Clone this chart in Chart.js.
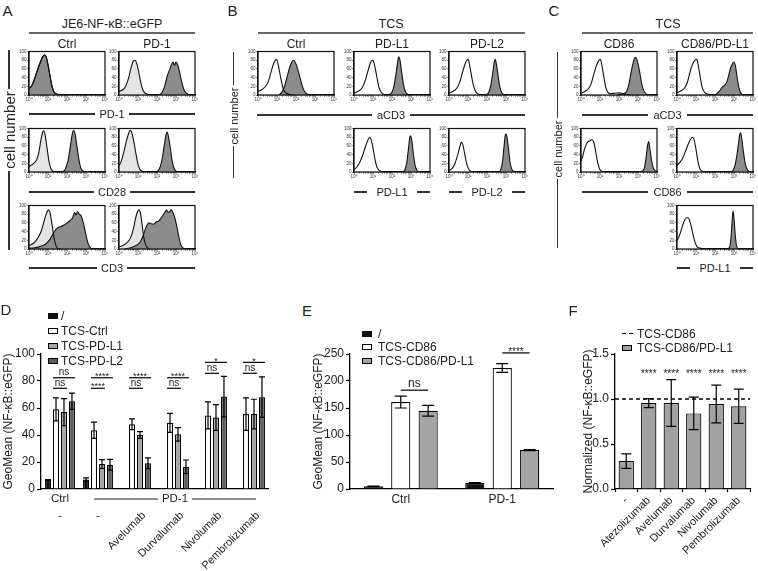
<!DOCTYPE html>
<html>
<head>
<meta charset="utf-8">
<script src="https://cdn.jsdelivr.net/npm/chart.js@4.4.0/dist/chart.umd.min.js"></script>
<style>
  body { margin: 0; background: #fff; }
  #fig { position: relative; width: 758px; height: 571px; overflow: hidden;
         font-family: "Liberation Sans", Arial, sans-serif; color: #222; }
  #fig canvas { position: absolute; }
  .t { position: absolute; transform: translate(-50%, -50%); white-space: nowrap; line-height: 1; }
  .tl { position: absolute; transform: translate(0, -50%); white-space: nowrap; line-height: 1; }
  .l { position: absolute; }
  .sw { position: absolute; box-sizing: border-box; }
</style>
</head>
<body>
<div id="fig"></div>
<script>
// ---------- histograms (x = decade, 0 -> 10^0 ... 4 -> 10^4; y = cell number, % of max) ----------
const histTickLabels = ['10⁰', '10¹', '10²', '10³', '10⁴'];

// A: JE6-NF-kB::eGFP, Ctrl vs PD-1 cells
const aPd1CtrlFill = [[0,15],[0.15,22],[0.3,38],[0.45,58],[0.6,76],[0.72,88],[0.82,92],[0.9,88],[1.0,70],[1.1,45],[1.2,22],[1.3,8],[1.42,3],[1.6,0]];
const aPd1CtrlOpen = aPd1CtrlFill;
const aPd1Pd1Open = [[0,8],[0.2,12],[0.35,20],[0.5,38],[0.62,60],[0.75,78],[0.85,80],[0.95,70],[1.05,50],[1.15,28],[1.25,12],[1.38,4],[1.55,1],[1.7,0]];
const aPd1Pd1Fill = [[2.1,0],[2.25,5],[2.4,20],[2.55,45],[2.68,60],[2.78,72],[2.85,76],[2.92,68],[3.0,76],[3.08,70],[3.18,55],[3.3,30],[3.42,12],[3.55,4],[3.7,1],[3.85,0]];
const aCd28CtrlOpen = [[0,13],[0.2,18],[0.4,28],[0.52,45],[0.62,72],[0.72,92],[0.78,95],[0.85,85],[0.95,55],[1.05,25],[1.15,8],[1.25,2],[1.4,0]];
const aCd28CtrlFill = [[1.75,0],[1.9,6],[2.05,25],[2.18,60],[2.28,88],[2.35,96],[2.42,88],[2.52,60],[2.62,30],[2.72,10],[2.82,3],[2.95,0]];
const aCd28Pd1Open = [[0,15],[0.12,25],[0.25,45],[0.38,70],[0.5,88],[0.58,96],[0.66,92],[0.78,70],[0.9,40],[1.0,18],[1.1,6],[1.25,1],[1.4,0]];
const aCd28Pd1Fill = [[1.95,0],[2.1,5],[2.25,25],[2.38,60],[2.47,85],[2.53,92],[2.6,82],[2.7,55],[2.8,25],[2.9,8],[3.0,2],[3.15,0]];
const aCd3CtrlOpen = [[0,8],[0.2,12],[0.35,18],[0.5,28],[0.65,42],[0.8,65],[0.92,82],[1.02,90],[1.1,85],[1.2,60],[1.3,30],[1.4,10],[1.5,2],[1.65,0]];
const aCd3CtrlFill = [[0,2],[0.3,3],[0.6,6],[0.9,12],[1.1,22],[1.25,34],[1.4,44],[1.55,50],[1.7,52],[1.85,55],[2.0,60],[2.15,65],[2.3,72],[2.4,84],[2.48,78],[2.55,86],[2.65,80],[2.75,76],[2.85,62],[2.95,42],[3.05,22],[3.15,8],[3.25,2],[3.4,0]];
const aCd3Pd1Open = [[0,5],[0.2,8],[0.4,14],[0.6,25],[0.75,45],[0.88,72],[0.98,87],[1.06,90],[1.14,80],[1.22,55],[1.3,28],[1.4,10],[1.5,3],[1.65,0]];
const aCd3Pd1Fill = [[0.3,0],[0.6,3],[0.9,8],[1.1,15],[1.25,28],[1.38,45],[1.48,55],[1.58,60],[1.7,58],[1.82,57],[1.95,62],[2.08,64],[2.2,70],[2.32,78],[2.42,85],[2.5,90],[2.58,84],[2.66,86],[2.75,90],[2.85,82],[2.95,70],[3.05,50],[3.15,28],[3.25,10],[3.38,2],[3.5,0]];

// B: TCS Ctrl / PD-L1 / PD-L2
const bCd3CtrlOpen = [[0,8],[0.2,12],[0.4,20],[0.55,32],[0.7,55],[0.82,72],[0.92,80],[0.98,82],[1.05,72],[1.15,50],[1.25,28],[1.35,12],[1.5,4],[1.7,1],[1.9,0]];
const bCd3CtrlFill = [[1.1,0],[1.25,6],[1.4,20],[1.55,45],[1.68,65],[1.78,76],[1.86,80],[1.95,76],[2.05,65],[2.18,45],[2.32,22],[2.45,8],[2.6,2],[2.8,0]];
const bCd3Pdl1Open = [[0,4],[0.2,8],[0.4,15],[0.55,28],[0.7,50],[0.85,72],[0.95,80],[1.02,78],[1.1,65],[1.2,42],[1.3,20],[1.42,7],[1.55,2],[1.7,0]];
const bCd3Pdl1Fill = [[1.85,0],[1.98,5],[2.1,20],[2.2,45],[2.28,70],[2.35,88],[2.42,80],[2.5,55],[2.6,25],[2.7,8],[2.82,2],[2.95,0]];
const bCd3Pdl2Open = [[0,4],[0.2,8],[0.4,15],[0.55,28],[0.7,50],[0.85,72],[0.95,80],[1.0,82],[1.08,70],[1.18,45],[1.3,20],[1.42,7],[1.55,2],[1.7,0]];
const bCd3Pdl2Fill = [[1.95,0],[2.08,5],[2.2,22],[2.3,50],[2.38,75],[2.43,82],[2.5,70],[2.58,45],[2.68,18],[2.78,5],[2.9,0]];
const bPdl1Open = [[0,5],[0.15,12],[0.3,22],[0.45,38],[0.6,58],[0.72,72],[0.82,80],[0.9,75],[1.0,55],[1.1,30],[1.2,12],[1.32,4],[1.45,1],[1.6,0]];
const bPdl1Fill = [[2.55,0],[2.68,5],[2.78,22],[2.87,55],[2.94,80],[2.98,83],[3.05,70],[3.13,40],[3.22,14],[3.32,3],[3.45,0]];
const bPdl2Open = [[0,3],[0.15,8],[0.3,18],[0.45,38],[0.57,58],[0.65,68],[0.72,64],[0.8,48],[0.9,25],[1.0,10],[1.1,3],[1.25,0]];
const bPdl2Fill = [[2.6,0],[2.72,5],[2.82,25],[2.9,60],[2.96,84],[3.0,87],[3.06,78],[3.14,50],[3.22,20],[3.32,5],[3.45,0]];

// C: TCS CD86 / CD86+PD-L1
const cCd3Cd86Open = [[0,4],[0.2,8],[0.4,15],[0.55,28],[0.72,55],[0.85,72],[0.95,80],[1.02,82],[1.1,68],[1.2,42],[1.3,18],[1.42,6],[1.55,3],[1.8,4],[2.0,5],[2.2,3],[2.4,1],[2.6,0]];
const cCd3Cd86Fill = [[1.9,0],[2.2,3],[2.4,8],[2.52,25],[2.65,55],[2.75,75],[2.85,86],[2.92,84],[3.0,72],[3.1,50],[3.2,25],[3.3,10],[3.42,3],[3.55,0]];
const cCd3DblOpen = [[0,5],[0.2,9],[0.4,16],[0.55,30],[0.72,58],[0.85,74],[0.95,80],[1.04,82],[1.12,68],[1.22,42],[1.32,18],[1.45,6],[1.6,2],[1.8,1],[2.0,0]];
const cCd3DblFill = [[1.95,0],[2.1,3],[2.25,10],[2.38,18],[2.5,22],[2.62,30],[2.72,45],[2.82,62],[2.92,72],[3.0,76],[3.07,68],[3.15,45],[3.25,18],[3.35,5],[3.48,0]];
const cCd86Cd86Open = [[0,25],[0.08,35],[0.18,52],[0.28,64],[0.38,70],[0.48,72],[0.58,74],[0.66,70],[0.74,55],[0.82,35],[0.9,18],[0.98,7],[1.08,2],[1.2,0]];
const cCd86Cd86Fill = [[3.0,0],[3.2,2],[3.33,8],[3.43,35],[3.5,60],[3.56,70],[3.62,55],[3.7,30],[3.8,10],[3.9,3],[4,1]];
const cCd86DblOpen = [[0,15],[0.15,22],[0.3,32],[0.45,48],[0.6,65],[0.72,76],[0.82,80],[0.9,74],[1.0,52],[1.1,25],[1.2,8],[1.32,2],[1.5,0],[1.9,1],[2.3,0]];
const cCd86DblFill = [[2.7,0],[2.9,2],[3.02,10],[3.12,30],[3.22,60],[3.3,86],[3.35,90],[3.42,72],[3.5,45],[3.6,18],[3.7,5],[3.82,1],[3.95,0]];
const cPdl1DblOpen = [[0,20],[0.1,28],[0.2,40],[0.3,55],[0.4,66],[0.5,72],[0.58,72],[0.66,66],[0.76,50],[0.86,30],[0.96,14],[1.06,5],[1.2,2],[1.4,1],[1.6,0]];
const cPdl1DblFill = [[2.65,0],[2.77,4],[2.85,30],[2.91,70],[2.95,87],[3.0,70],[3.06,35],[3.13,8],[3.22,1],[3.3,0]];

// ---------- D ----------
const catsD = ['-', '-', 'Avelumab', 'Durvalumab', 'Nivolumab', 'Pembrolizumab'];
const groupNamesD = ['Ctrl', 'PD-1'];
const seriesNamesD = ['/', 'TCS-Ctrl', 'TCS-PD-L1', 'TCS-PD-L2'];
const noneD = [6.5, 7, null, null, null, null];
const noneErrD = [0.5, 1.2, null, null, null, null];
const ctrlD = [59, 43.5, 48, 49, 54.5, 55.5];
const ctrlErrD = [8.5, 6, 4, 7, 10, 12];
const pdl1D = [57, 18.5, 40, 40.5, 53, 55.5];
const pdl1ErrD = [10, 3.3, 2.5, 5, 9.5, 11];
const pdl2D = [65, 18, 19, 16.5, 68.5, 68];
const pdl2ErrD = [6, 4, 4, 5, 15, 15];
// [category, from series, to series, bracket level, label]
const sigD = [
  [0, 1, 3, 82.4, 'ns'], [0, 1, 2, 74.6, 'ns'],
  [1, 1, 3, 82.4, '****'], [1, 1, 2, 74.6, '****'],
  [2, 1, 3, 82.4, '****'], [2, 1, 2, 74.6, 'ns'],
  [3, 1, 3, 82.4, '****'], [3, 1, 2, 74.6, 'ns'],
  [4, 1, 3, 93.8, '*'], [4, 1, 2, 85.7, 'ns'],
  [5, 1, 3, 93.8, '*'], [5, 1, 2, 85.7, 'ns']
];

// ---------- E ----------
const catsE = ['Ctrl', 'PD-1'];
const seriesNamesE = ['/', 'TCS-CD86', 'TCS-CD86/PD-L1'];
const noneE = [5, 11];
const noneErrE = [0.5, 1];
const cd86E = [161, 224];
const cd86ErrE = [11, 8];
const dblE = [145, 72];
const dblErrE = [10, 0.8];
const sigE = [[0, 1, 2, 183, 'ns'], [1, 1, 2, 252, '****']];

// ---------- F ----------
const catsF = ['-', 'Atezolizumab', 'Avelumab', 'Durvalumab', 'Nivolumab', 'Pembrolizumab'];
const seriesNamesF = ['TCS-CD86', 'TCS-CD86/PD-L1'];
const refF = 1.0;
const dblF = [0.31, 0.955, 0.955, 0.84, 0.945, 0.92];
const dblErrF = [0.08, 0.05, 0.26, 0.18, 0.21, 0.19];
const sigF = [[1, 0, 0, 1.31, '****'], [2, 0, 0, 1.31, '****'], [3, 0, 0, 1.31, '****'], [4, 0, 0, 1.31, '****'], [5, 0, 0, 1.31, '****']];

const FONT = '"Liberation Sans", Arial, sans-serif';
Chart.defaults.font.family = FONT;
Chart.defaults.color = '#222';

const fig = document.getElementById('fig');

// ---------- html helpers ----------
function addText(s, x, y, size, cls, rot) {
  const d = document.createElement('div');
  d.className = cls || 't';
  d.textContent = s;
  d.style.left = x + 'px';
  d.style.top = y + 'px';
  d.style.fontSize = size + 'px';
  if (rot) d.style.transform = 'translate(-50%,-50%) rotate(-90deg)';
  fig.appendChild(d);
  return d;
}
function hline(x1, x2, y, w, color) {
  const d = document.createElement('div');
  d.className = 'l';
  d.style.cssText += `left:${x1}px;top:${y - w / 2}px;width:${x2 - x1}px;height:${w}px;background:${color};`;
  fig.appendChild(d);
}
function vline(x, y1, y2, w, color) {
  const d = document.createElement('div');
  d.className = 'l';
  d.style.cssText += `left:${x - w / 2}px;top:${y1}px;width:${w}px;height:${y2 - y1}px;background:${color};`;
  fig.appendChild(d);
}
function labelLine(s, x1, x2, y, size, gap) {
  const mid = (x1 + x2) / 2;
  const t = addText(s, mid, y, size);
  const w = t.getBoundingClientRect().width;
  hline(x1, mid - w / 2 - gap, y, 1.2, '#333');
  hline(mid + w / 2 + gap, x2, y, 1.2, '#333');
}
// vertical label sitting on a vertical rule (text centred at cy)
function vLabelLine(s, x, y1, y2, cy, size, gap) {
  const t = addText(s, x, cy, size, 't', true);
  const h = t.getBoundingClientRect().height;
  vline(x, y1, cy - h / 2 - gap, 1.2, '#333');
  vline(x, cy + h / 2 + gap, y2, 1.2, '#333');
}
function swatch(x, y, w, h, bg, border) {
  const d = document.createElement('div');
  d.className = 'sw';
  d.style.cssText += `left:${x}px;top:${y - h / 2}px;width:${w}px;height:${h}px;background:${bg};` +
    (border ? 'border:1px solid #000;' : '');
  fig.appendChild(d);
}

// ---------- chart plugins ----------
const frame = {
  id: 'frame',
  afterDraw(chart) {
    const a = chart.chartArea, ctx = chart.ctx;
    ctx.save();
    ctx.strokeStyle = '#111';
    ctx.lineWidth = 1.2;
    ctx.strokeRect(a.left, a.top, a.right - a.left, a.bottom - a.top);
    ctx.restore();
  }
};

const errorBars = {
  id: 'errorBars',
  afterDatasetsDraw(chart, args, opts) {
    const ctx = chart.ctx, y = chart.scales.y;
    chart.data.datasets.forEach((ds, i) => {
      if (!ds.errors) return;
      chart.getDatasetMeta(i).data.forEach((bar, j) => {
        const v = ds.data[j], e = ds.errors[j];
        if (v == null || e == null) return;
        const top = y.getPixelForValue(v + e), bot = y.getPixelForValue(v - e), h = opts.cap / 2;
        ctx.save();
        ctx.strokeStyle = '#000';
        ctx.lineWidth = 1.2;
        ctx.beginPath();
        ctx.moveTo(bar.x, top); ctx.lineTo(bar.x, bot);
        ctx.moveTo(bar.x - h, top); ctx.lineTo(bar.x + h, top);
        ctx.moveTo(bar.x - h, bot); ctx.lineTo(bar.x + h, bot);
        ctx.stroke();
        ctx.restore();
      });
    });
  }
};

const sigMarks = {
  id: 'sigMarks',
  afterDatasetsDraw(chart, args, opts) {
    const ctx = chart.ctx, y = chart.scales.y;
    (opts.marks || []).forEach(([cat, a, b, level, label]) => {
      const A = chart.getDatasetMeta(a).data[cat], B = chart.getDatasetMeta(b).data[cat];
      const py = y.getPixelForValue(level);
      const star = label.indexOf('*') >= 0;
      const size = star ? opts.starSize : opts.nsSize;
      ctx.save();
      ctx.strokeStyle = '#000';
      ctx.fillStyle = '#222';
      ctx.lineWidth = 1.2;
      let cx = A.x, cy = py;
      if (a !== b) {
        const x1 = opts.edges ? A.x - A.width / 2 : A.x;
        const x2 = opts.edges ? B.x + B.width / 2 : B.x;
        ctx.beginPath(); ctx.moveTo(x1, py); ctx.lineTo(x2, py); ctx.stroke();
        cx = (x1 + x2) / 2;
        cy = py - (star ? opts.starGap : opts.nsGap);
      }
      ctx.font = size + 'px ' + FONT;
      ctx.textAlign = 'center';
      ctx.textBaseline = 'alphabetic';
      ctx.fillText(label, cx, cy + size * (star ? 0.57 : 0.26));
      ctx.restore();
    });
  }
};

const refLine = {
  id: 'refLine',
  afterDatasetsDraw(chart, args, opts) {
    const ctx = chart.ctx, a = chart.chartArea, py = chart.scales.y.getPixelForValue(opts.value);
    ctx.save();
    ctx.strokeStyle = '#000';
    ctx.lineWidth = 1.3;
    ctx.setLineDash([4, 3]);
    ctx.beginPath(); ctx.moveTo(a.left, py); ctx.lineTo(a.right, py); ctx.stroke();
    ctx.restore();
  }
};

const groupLabelsD = {
  id: 'groupLabelsD',
  afterDraw(chart) {
    const ctx = chart.ctx, x = chart.scales.x, y0 = chart.chartArea.bottom;
    ctx.save();
    ctx.fillStyle = '#222';
    ctx.strokeStyle = '#222';
    ctx.lineWidth = 1.2;
    ctx.font = '11.5px ' + FONT;
    ctx.textAlign = 'center';
    ctx.textBaseline = 'middle';
    const yy = y0 + 10;
    ctx.fillText(groupNamesD[0], x.getPixelForValue(0), yy);
    const a = x.getPixelForValue(1) - 4, b = x.getPixelForValue(catsD.length - 1) + 6, mid = (a + b) / 2;
    const w = ctx.measureText(groupNamesD[1]).width;
    ctx.fillText(groupNamesD[1], mid, yy);
    ctx.beginPath();
    ctx.moveTo(a, yy); ctx.lineTo(mid - w / 2 - 4, yy);
    ctx.moveTo(mid + w / 2 + 4, yy); ctx.lineTo(b, yy);
    ctx.stroke();
    catsD.forEach((c, i) => { if (c === '-') ctx.fillText(c, x.getPixelForValue(i), y0 + 27); });
    ctx.restore();
  }
};

// ---------- histogram panels ----------
const BOX_W = 76, BOX_H = 44;
function histogram(x, y, open, filled, openColor) {
  const padL = 12, padT = 3, padR = 5, padB = 9;
  const cv = document.createElement('canvas');
  cv.width = BOX_W + padL + padR;
  cv.height = BOX_H + padT + padB;
  cv.style.left = (x - padL) + 'px';
  cv.style.top = (y - padT) + 'px';
  fig.appendChild(cv);
  new Chart(cv, {
    type: 'line',
    data: {
      datasets: [
        { data: filled, backgroundColor: '#8c8c8c', fill: 'origin' },
        { data: open, backgroundColor: openColor, fill: 'origin' }
      ]
    },
    options: {
      responsive: false, animation: false, devicePixelRatio: 1,
      layout: { padding: { top: padT, right: padR, left: 0, bottom: 0 } },
      elements: {
        line: { borderColor: '#111', borderWidth: 1.1, cubicInterpolationMode: 'monotone' },
        point: { radius: 0 }
      },
      plugins: { legend: { display: false }, tooltip: { enabled: false }, filler: { drawTime: 'beforeDatasetsDraw' } },
      scales: {
        x: {
          type: 'linear', min: 0, max: 4,
          afterFit: s => { s.height = padB; },
          afterBuildTicks: s => {
            const t = [];
            for (let d = 0; d < 4; d++) for (let m = 1; m < 10; m++) t.push({ value: d + Math.log10(m) });
            t.push({ value: 4 });
            s.ticks = t;
          },
          ticks: {
            autoSkip: false, maxRotation: 0, minRotation: 0, padding: 0.5,
            font: { size: 4.5 }, color: '#333',
            callback: v => Number.isInteger(v) ? histTickLabels[v] : ''
          },
          grid: { drawOnChartArea: false, tickLength: 1.6, tickWidth: 0.6, color: '#111' },
          border: { color: '#111', width: 1.2 }
        },
        y: {
          min: 0, max: 100,
          afterFit: s => { s.width = padL; },
          ticks: { stepSize: 20, padding: 0.8, font: { size: 4.5 }, color: '#333' },
          grid: { drawOnChartArea: false, tickLength: 1.8, tickWidth: 0.6, color: '#111' },
          border: { color: '#111', width: 1.2 }
        }
      }
    },
    plugins: [frame]
  });
}

const LIGHT = '#e4e4e4', WHITE = '#ffffff';
// A
histogram(29, 51, aPd1CtrlOpen, aPd1CtrlFill, LIGHT);
histogram(119, 51, aPd1Pd1Open, aPd1Pd1Fill, LIGHT);
histogram(29, 128, aCd28CtrlOpen, aCd28CtrlFill, LIGHT);
histogram(119, 128, aCd28Pd1Open, aCd28Pd1Fill, LIGHT);
histogram(29, 205, aCd3CtrlOpen, aCd3CtrlFill, LIGHT);
histogram(119, 205, aCd3Pd1Open, aCd3Pd1Fill, LIGHT);
// B
histogram(258, 51, bCd3CtrlOpen, bCd3CtrlFill, WHITE);
histogram(354, 51, bCd3Pdl1Open, bCd3Pdl1Fill, WHITE);
histogram(449, 51, bCd3Pdl2Open, bCd3Pdl2Fill, WHITE);
histogram(354, 128, bPdl1Open, bPdl1Fill, WHITE);
histogram(449, 128, bPdl2Open, bPdl2Fill, WHITE);
// C
histogram(581, 51, cCd3Cd86Open, cCd3Cd86Fill, WHITE);
histogram(677, 51, cCd3DblOpen, cCd3DblFill, WHITE);
histogram(581, 128, cCd86Cd86Open, cCd86Cd86Fill, WHITE);
histogram(677, 128, cCd86DblOpen, cCd86DblFill, WHITE);
histogram(677, 205, cPdl1DblOpen, cPdl1DblFill, WHITE);

// headers and axis labels of A-C
addText('A', 7.5, 10, 15);
addText('B', 232.5, 10, 15);
addText('C', 554, 10, 15);

addText('JE6-NF-κB::eGFP', 112, 24, 12.5);
hline(29, 195, 33, 2, '#666');
addText('Ctrl', 67, 44, 12);
addText('PD-1', 157, 44, 12);
labelLine('PD-1', 29, 195, 114, 11, 4);
labelLine('CD28', 29, 195, 192, 11, 4);
labelLine('CD3', 29, 195, 268, 11, 4);
vLabelLine('cell number', 9, 50, 250, 130, 15, 2);

addText('TCS', 391, 24, 12.5);
hline(258, 525, 33, 2, '#666');
addText('Ctrl', 296, 44, 12);
addText('PD-L1', 392, 44, 12);
addText('PD-L2', 487, 44, 12);
labelLine('aCD3', 257, 525, 115, 11, 5);
labelLine('PD-L1', 354, 430, 192, 11, 9);
labelLine('PD-L2', 449, 525, 192, 11, 9);
vLabelLine('cell number', 233.5, 52, 178, 115.5, 11, 2);

addText('TCS', 668, 24, 12.5);
hline(582, 753, 33, 2, '#666');
addText('CD86', 619, 44, 12);
addText('CD86/PD-L1', 715, 44, 12);
labelLine('aCD3', 582, 753, 115, 11, 5);
labelLine('CD86', 582, 753, 192, 11, 5);
labelLine('PD-L1', 677, 753, 268, 11, 9);
vLabelLine('cell number', 557.5, 52, 248, 148.5, 11, 2);

// ---------- bar panels ----------
function barCanvas(left, top, w, h) {
  const cv = document.createElement('canvas');
  cv.width = w; cv.height = h;
  cv.style.left = left + 'px'; cv.style.top = top + 'px';
  fig.appendChild(cv);
  return cv;
}
function barOptions(o) {
  const yTicks = { stepSize: o.yStep, padding: 2, color: '#222', font: { size: 12 } };
  if (o.yFmt) yTicks.callback = o.yFmt;
  return {
    responsive: false, animation: false, devicePixelRatio: 1,
    layout: { padding: { top: o.padTop, right: o.padRight, left: 0, bottom: 0 } },
    plugins: {
      legend: { display: false }, tooltip: { enabled: false },
      errorBars: { cap: o.cap },
      sigMarks: o.sig,
      refLine: o.ref || {}
    },
    scales: {
      x: {
        afterFit: s => { s.height = o.xHeight; },
        grid: { drawOnChartArea: false, drawTicks: o.xTicks, tickLength: 3, tickWidth: 1.2, color: '#000' },
        border: { color: '#000', width: 1.3 },
        ticks: Object.assign({ autoSkip: false, color: '#222', font: { size: o.xFont } }, o.xTickOpts)
      },
      y: {
        min: 0, max: o.yMax,
        afterFit: s => { s.width = o.yWidth; },
        grid: { drawOnChartArea: false, tickLength: 4, tickWidth: 1.2, color: '#000' },
        border: { color: '#000', width: 1.3 },
        ticks: yTicks,
        title: { display: true, text: o.yTitle, color: '#222', font: { size: 12 }, padding: { top: 1, bottom: 0 } }
      }
    }
  };
}
const barStyle = { borderColor: '#000', borderWidth: 1.2 };

// D
new Chart(barCanvas(0, 340, 280, 231), {
  type: 'bar',
  data: {
    labels: catsD,
    datasets: [
      Object.assign({ label: seriesNamesD[0], data: noneD, errors: noneErrD, backgroundColor: '#111' }, barStyle),
      Object.assign({ label: seriesNamesD[1], data: ctrlD, errors: ctrlErrD, backgroundColor: '#fff' }, barStyle),
      Object.assign({ label: seriesNamesD[2], data: pdl1D, errors: pdl1ErrD, backgroundColor: '#a6a6a6' }, barStyle),
      Object.assign({ label: seriesNamesD[3], data: pdl2D, errors: pdl2ErrD, backgroundColor: '#5e5e5e' }, barStyle)
    ].map(d => Object.assign(d, { barPercentage: 0.75, categoryPercentage: 0.84 }))
  },
  options: barOptions({
    padTop: 14, padRight: 8, xHeight: 82, yWidth: 41, yMax: 100, yStep: 20, cap: 6,
    yTitle: 'GeoMean (NF-κB::eGFP)', xFont: 11, xTicks: false,
    xTickOpts: { maxRotation: 45, minRotation: 45, padding: 20, labelOffset: 8,
                 callback: (v, i) => catsD[i] === '-' ? '' : catsD[i] },
    sig: { marks: sigD, edges: true, nsSize: 10, starSize: 9, nsGap: 5, starGap: 4 }
  }),
  plugins: [errorBars, sigMarks, groupLabelsD]
});

// E
new Chart(barCanvas(310, 340, 250, 231), {
  type: 'bar',
  data: {
    labels: catsE,
    datasets: [
      Object.assign({ label: seriesNamesE[0], data: noneE, errors: noneErrE, backgroundColor: '#111' }, barStyle),
      Object.assign({ label: seriesNamesE[1], data: cd86E, errors: cd86ErrE, backgroundColor: '#fff' }, barStyle),
      Object.assign({ label: seriesNamesE[2], data: dblE, errors: dblErrE, backgroundColor: '#a5a5a5' }, barStyle)
    ].map(d => Object.assign(d, { barPercentage: 0.7, categoryPercentage: 0.81 }))
  },
  options: barOptions({
    padTop: 14, padRight: 7, xHeight: 82, yWidth: 40, yMax: 250, yStep: 50, cap: 12,
    yTitle: 'GeoMean (NF-κB::eGFP)', xFont: 12, xTicks: false,
    xTickOpts: { maxRotation: 0, minRotation: 0, padding: 3 },
    sig: { marks: sigE, edges: false, nsSize: 12, starSize: 10, nsGap: 6, starGap: 4 }
  }),
  plugins: [errorBars, sigMarks]
});

// F
new Chart(barCanvas(580, 340, 178, 231), {
  type: 'bar',
  data: {
    labels: catsF,
    datasets: [
      Object.assign({ label: seriesNamesF[1], data: dblF, errors: dblErrF, backgroundColor: '#a2a2a2',
                      barPercentage: 0.68, categoryPercentage: 1 }, barStyle)
    ]
  },
  options: barOptions({
    padTop: 14, padRight: 8, xHeight: 82, yWidth: 35, yMax: 1.5, yStep: 0.5, cap: 10,
    yFmt: v => v.toFixed(1),
    yTitle: 'Normalized (NF-κB::eGFP)', xFont: 11, xTicks: true,
    xTickOpts: { maxRotation: 45, minRotation: 45, padding: 2 },
    sig: { marks: sigF, edges: false, nsSize: 10, starSize: 10, nsGap: 5, starGap: 4 },
    ref: { value: refF }
  }),
  plugins: [errorBars, sigMarks, refLine]
});

// panel letters and legends of D-F
addText('D', 6, 309, 15);
addText('E', 307, 310, 15);
addText('F', 573, 310, 15);

const legD = [['#111', false], ['#fff', true], ['#a6a6a6', true], ['#5e5e5e', true]];
seriesNamesD.forEach((s, i) => {
  const y = 315.5 + i * 15;
  swatch(48, y, 10, 6, legD[i][0], legD[i][1]);
  addText(s, 61, y, 12, 'tl');
});
const legE = [['#111', false], ['#fff', true], ['#a5a5a5', true]];
seriesNamesE.forEach((s, i) => {
  const y = 334 + i * 13.4;
  swatch(362, y, 10, 6, legE[i][0], legE[i][1]);
  addText(s, 378, y, 12, 'tl');
});
hline(622, 626, 333.5, 1.5, '#000');
hline(628.5, 632.5, 333.5, 1.5, '#000');
addText(seriesNamesF[0], 637, 333.5, 12, 'tl');
swatch(622, 347.5, 10, 6, '#a2a2a2', true);
addText(seriesNamesF[1], 637, 347.5, 12, 'tl');
</script>
</body>
</html>
